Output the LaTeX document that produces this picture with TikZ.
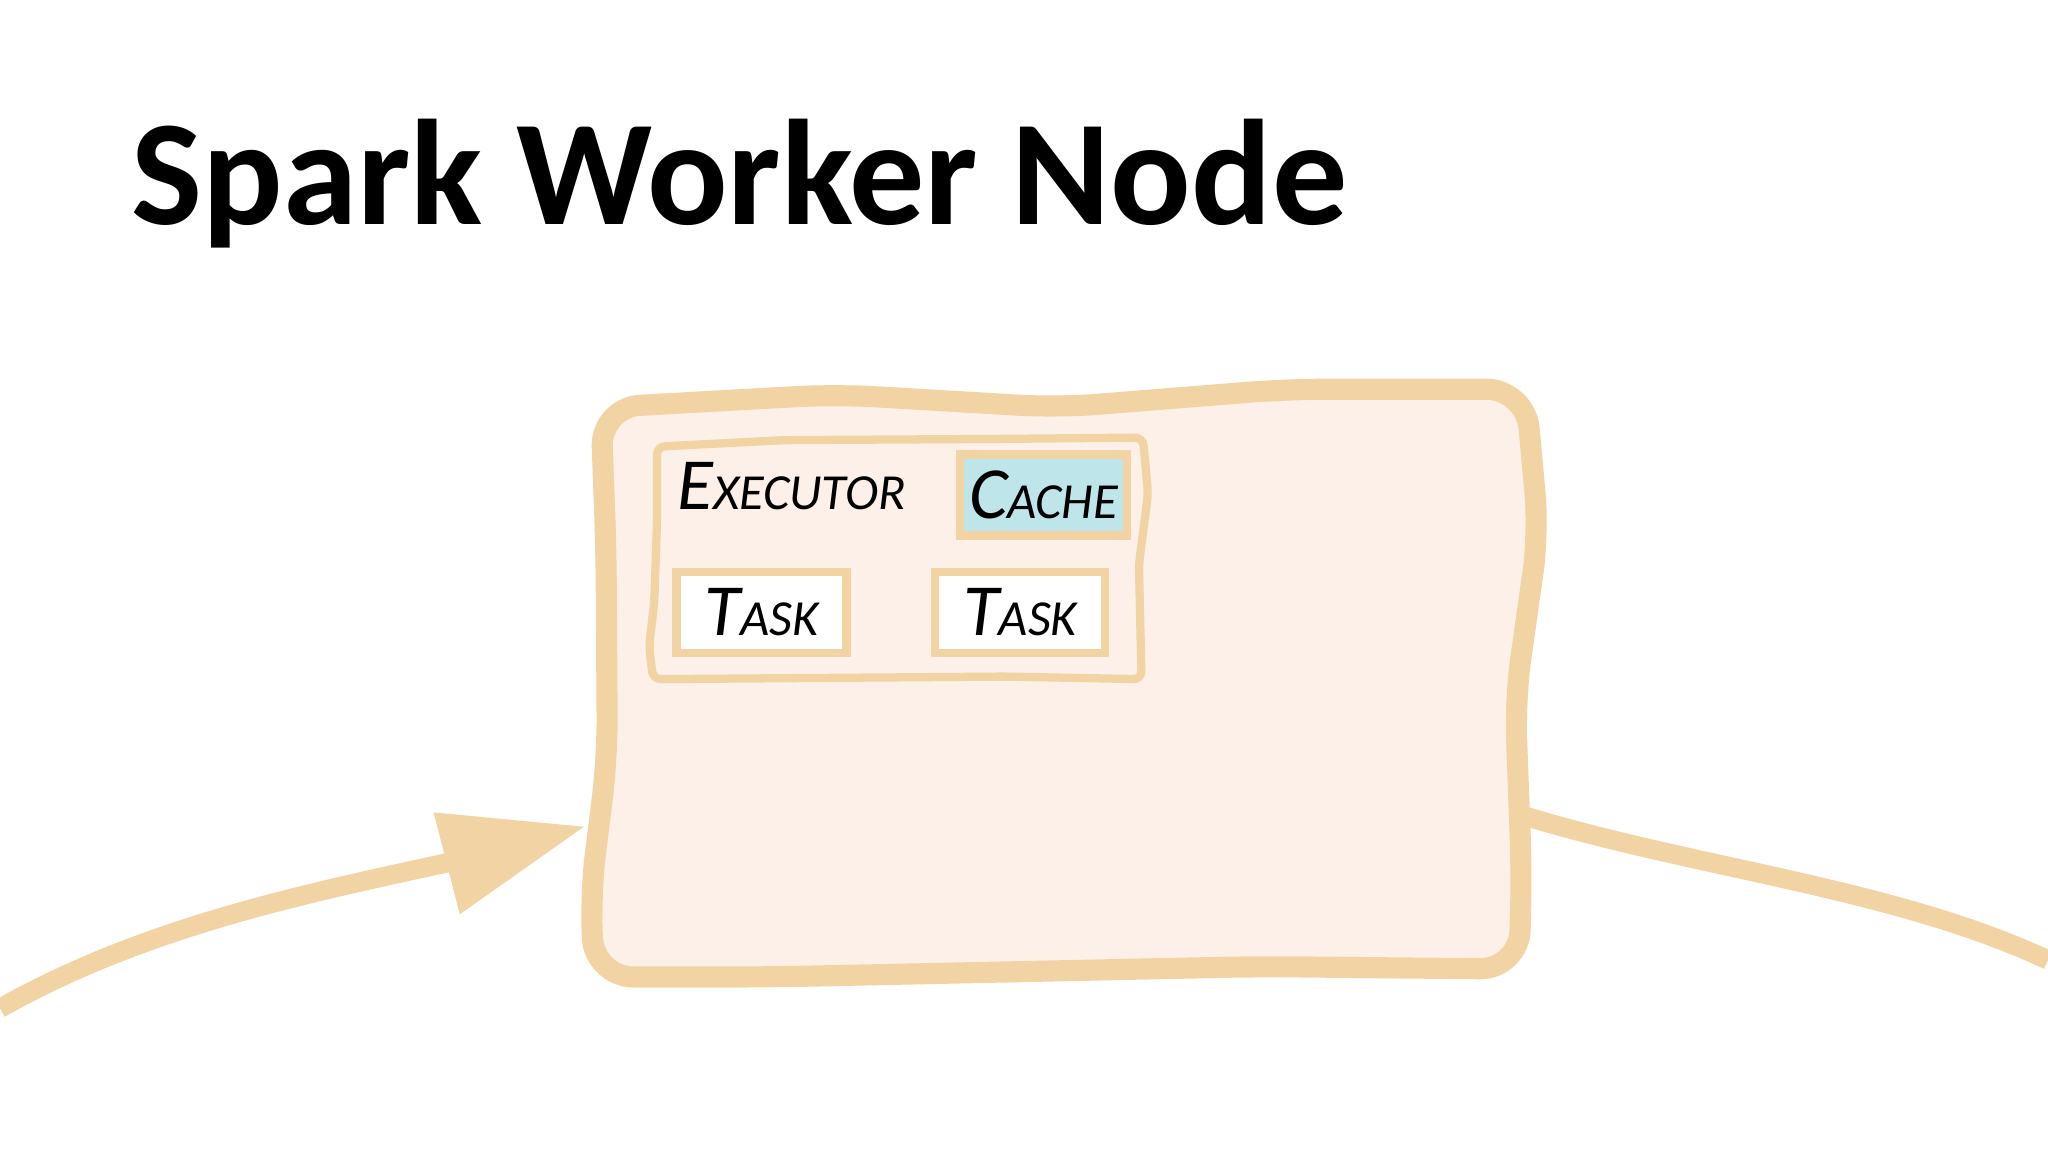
\documentclass[tikz,border=0pt]{standalone}
\usepackage{fontspec}
\setmainfont{Carlito}
\newcommand{\hw}[2]{{\fontsize{16}{18}\selectfont #1}{\fontsize{11}{13}\selectfont #2}}
\begin{document}
\begin{tikzpicture}[x=0.01cm,y=-0.01cm,
  hand/.style={font=\itshape},
  boxc/.style={draw=tan1,line width=1.8pt,inner sep=0,hand}]
\definecolor{tan1}{HTML}{F2D4A4}
\definecolor{fillp}{HTML}{FDF0E8}
\definecolor{cachec}{HTML}{BDE5EA}
\useasboundingbox (0,0) rectangle (1568,882);
\fill[white] (0,0) rectangle (1568,882);
\node[anchor=base west,font=\fontsize{32.7}{36}\selectfont\bfseries,inner sep=0] (title) at (100,172) {Spark Worker Node};
% arrows
\coordinate (ls) at (0,772);
\coordinate (le) at (345,660);
\coordinate (rs) at (1168,625);
\coordinate (re) at (1568,735);
\draw[tan1,line width=4.2pt] (ls) .. controls (110,710) and (230,685) .. (le);
\fill[tan1] (332,622) -- (447,633) -- (352,700) -- cycle;
\draw[tan1,line width=4.2pt] (rs) .. controls (1300,665) and (1450,680) .. (re);
% outer worker box
\draw[tan1,fill=fillp,line width=4.6pt,rounded corners=0.3cm] (640,302) -- (810,312) -- (985,298) -- (1168,298) -- (1178,408) -- (1160,535) -- (1165,670) -- (1163,742) -- (965,740) -- (590,748) -- (455,748) -- (452,685) -- (465,580) -- (464,420) -- (460,312) -- cycle;
% executor box
\draw[tan1,line width=1.8pt,rounded corners=0.06cm] (600,337) -- (770,336) -- (875,335) -- (879,378) -- (872,432) -- (874,520) -- (770,518) -- (500,520) -- (497,495) -- (501,460) -- (503,400) -- (503,342) -- cycle;
\node[hand,anchor=west] (exec) at (506,372) {\hw{E}{XECUTOR}};
\node[boxc,fill=cachec,minimum width=1.28cm,minimum height=0.62cm] (cache) at (799,379) {\hw{C}{ACHE}};
\node[boxc,fill=white,minimum width=1.3cm,minimum height=0.62cm] (t1) at (583,469) {\hw{T}{ASK}};
\node[boxc,fill=white,minimum width=1.3cm,minimum height=0.62cm] (t2) at (781,469) {\hw{T}{ASK}};
\end{tikzpicture}
\end{document}
